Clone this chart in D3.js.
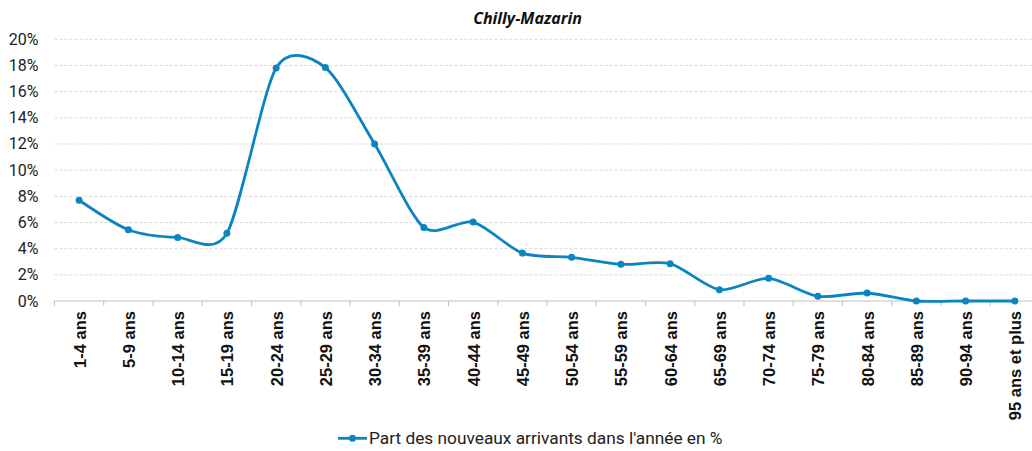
<!DOCTYPE html>
<html>
<head>
<meta charset="utf-8">
<script src="https://cdn.jsdelivr.net/npm/d3@7"></script>
<style>
body { margin: 0; background: #fff; }
svg { display: block; }
</style>
</head>
<body>
<svg width="1032" height="451"></svg>
<script>
var categories = ["1-4 ans", "5-9 ans", "10-14 ans", "15-19 ans", "20-24 ans", "25-29 ans",
    "30-34 ans", "35-39 ans", "40-44 ans", "45-49 ans", "50-54 ans", "55-59 ans",
    "60-64 ans", "65-69 ans", "70-74 ans", "75-79 ans", "80-84 ans", "85-89 ans",
    "90-94 ans", "95 ans et plus"];
var values = [7.7, 5.45, 4.86, 5.17, 17.8, 17.84, 12.0, 5.62, 6.03, 3.66, 3.34, 2.8,
    2.85, 0.86, 1.73, 0.36, 0.61, 0, 0, 0];
var yTicks = [0, 2, 4, 6, 8, 10, 12, 14, 16, 18, 20];
var title = "Chilly-Mazarin";
var seriesName = "Part des nouveaux arrivants dans l'année en %";

var svg = d3.select("svg");
var color = "#0b84c1";

var plotLeft = 54.5, plotRight = 1039.5, plotTop = 39.3, plotBottom = 301;

var x = d3.scaleBand()
    .domain(categories)
    .range([plotLeft, plotRight]);

var y = d3.scaleLinear()
    .domain([0, 20])
    .range([plotBottom, plotTop]);

// title
svg.append("text")
    .attr("x", 527.5)
    .attr("y", 24)
    .attr("text-anchor", "middle")
    .attr("font-family", "Open Sans")
    .attr("font-weight", "bold")
    .attr("font-style", "italic")
    .attr("font-size", 16)
    .attr("fill", "#111")
    .text(title)

// gridlines
svg.append("g")
    .selectAll("line")
    .data(yTicks.filter(function(d) { return d > 0; }))
    .join("line")
    .attr("x1", plotLeft)
    .attr("x2", plotRight)
    .attr("y1", function(d) { return y(d); })
    .attr("y2", function(d) { return y(d); })
    .attr("stroke", "#d9d9d9")
    .attr("stroke-dasharray", "3,2")

// y axis labels
svg.append("g")
    .selectAll("text")
    .data(yTicks)
    .join("text")
    .attr("x", 38.5)
    .attr("y", function(d) { return y(d) + 5.5; })
    .attr("text-anchor", "end")
    .attr("font-family", "Roboto")
    .attr("font-size", 16)
    .attr("fill", "#222")
    .text(function(d) { return d + "%"; })

// x axis line and ticks
svg.append("line")
    .attr("x1", plotLeft)
    .attr("x2", plotRight)
    .attr("y1", plotBottom)
    .attr("y2", plotBottom)
    .attr("stroke", "#bfbfbf")
    .attr("stroke-width", 1)

svg.append("g")
    .selectAll("line")
    .data(categories)
    .join("line")
    .attr("x1", function(d) { return x(d); })
    .attr("x2", function(d) { return x(d); })
    .attr("y1", plotBottom)
    .attr("y2", plotBottom + 5)
    .attr("stroke", "#bfbfbf")

// x labels
svg.append("g")
    .selectAll("text")
    .data(categories)
    .join("text")
    .attr("transform", function(d) {
        return "translate(" + (x(d) + x.bandwidth() / 2 + 6.5) + "," + 311 + ") rotate(-90)";
    })
    .attr("text-anchor", "end")
    .attr("font-family", "Liberation Sans")
    .attr("font-weight", "bold")
    .attr("font-size", 16.5)
    .attr("fill", "#111")
    .text(function(d) { return d; })

// line
var line = d3.line()
    .x(function(d, i) { return x(categories[i]) + x.bandwidth() / 2; })
    .y(function(d) { return y(d); })
    .curve(d3.curveCardinal.tension(0.2));

svg.append("path")
    .datum(values)
    .attr("d", line)
    .attr("fill", "none")
    .attr("stroke", color)
    .attr("stroke-width", 2.8)

svg.append("g")
    .selectAll("circle")
    .data(values)
    .join("circle")
    .attr("cx", function(d, i) { return x(categories[i]) + x.bandwidth() / 2; })
    .attr("cy", function(d) { return y(d); })
    .attr("r", 3.5)
    .attr("fill", color)

// legend
var legend = svg.append("g")
    .attr("transform", "translate(" + 338 + "," + 438.3 + ")");

legend.append("line")
    .attr("x1", 0)
    .attr("x2", 29)
    .attr("y1", 0)
    .attr("y2", 0)
    .attr("stroke", color)
    .attr("stroke-width", 2.8)

legend.append("circle")
    .attr("cx", 14.5)
    .attr("cy", 0)
    .attr("r", 3.5)
    .attr("fill", color)

legend.append("text")
    .attr("x", 31)
    .attr("y", 6)
    .attr("font-family", "Roboto")
    .attr("font-size", 17.3)
    .attr("fill", "#222")
    .text(seriesName)
</script>
</body>
</html>
